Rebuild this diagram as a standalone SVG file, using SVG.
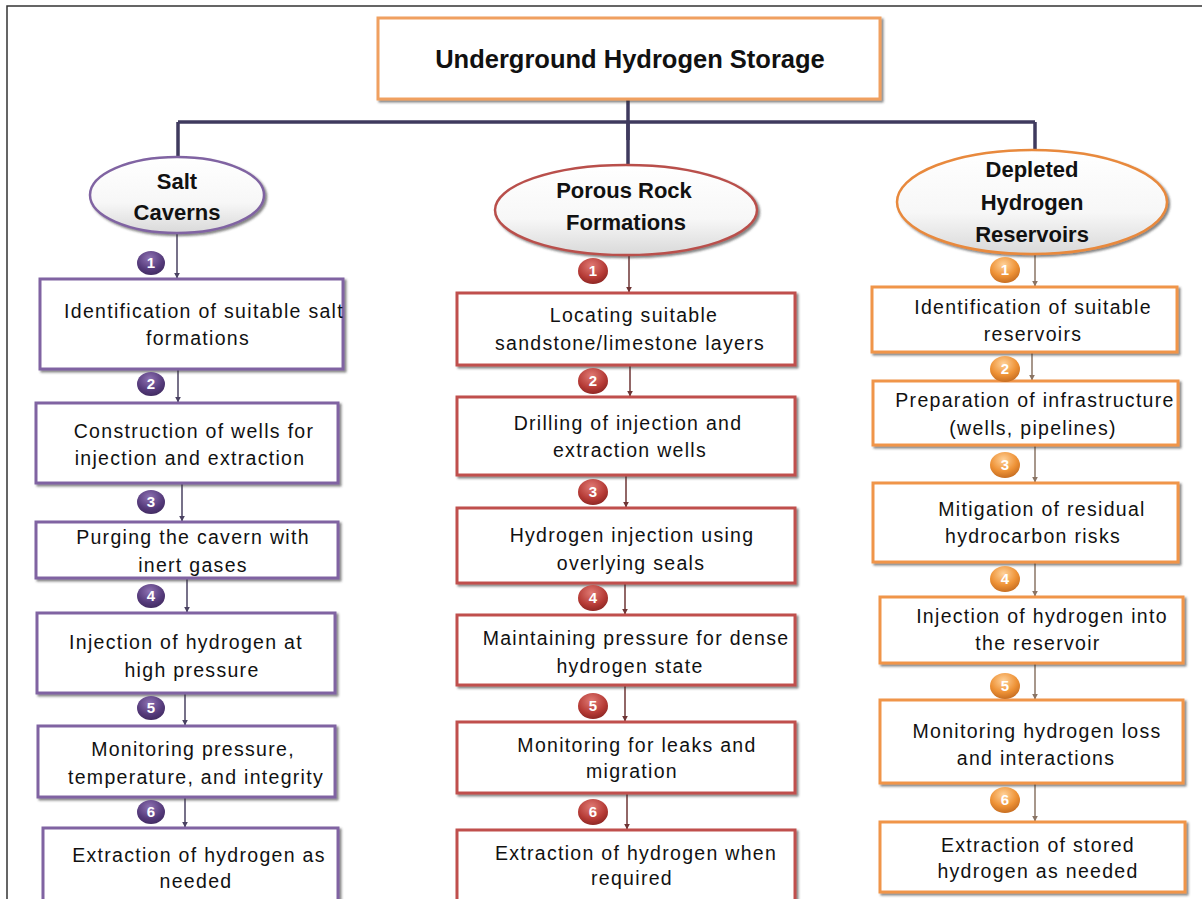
<svg xmlns="http://www.w3.org/2000/svg" width="1202" height="899" viewBox="0 0 1202 899">
<defs>
<filter id="sh" x="-10%" y="-10%" width="125%" height="130%">
<feDropShadow dx="2" dy="2" stdDeviation="1.2" flood-color="#333" flood-opacity="0.6"/>
</filter>
<linearGradient id="ellFill" x1="0" y1="0" x2="0" y2="1">
<stop offset="0" stop-color="#ffffff"/>
<stop offset="0.6" stop-color="#f7f7f7"/>
<stop offset="1" stop-color="#d9d9d9"/>
</linearGradient>
<radialGradient id="gP" cx="0.45" cy="0.3" r="0.8">
<stop offset="0" stop-color="#8e72b3"/>
<stop offset="0.6" stop-color="#553a7a"/>
<stop offset="1" stop-color="#3a2658"/>
</radialGradient>
<radialGradient id="gR" cx="0.45" cy="0.3" r="0.8">
<stop offset="0" stop-color="#e07a74"/>
<stop offset="0.6" stop-color="#b53a35"/>
<stop offset="1" stop-color="#7e1f1d"/>
</radialGradient>
<radialGradient id="gO" cx="0.45" cy="0.3" r="0.8">
<stop offset="0" stop-color="#ffd29a"/>
<stop offset="0.55" stop-color="#ee9236"/>
<stop offset="1" stop-color="#b9611a"/>
</radialGradient>
<marker id="aP" viewBox="0 0 10 10" refX="9" refY="5" markerWidth="6" markerHeight="6" orient="auto" markerUnits="userSpaceOnUse"><path d="M0,0 L10,5 L0,10 z" fill="#4a4262"/></marker>
<marker id="aR" viewBox="0 0 10 10" refX="9" refY="5" markerWidth="6" markerHeight="6" orient="auto" markerUnits="userSpaceOnUse"><path d="M0,0 L10,5 L0,10 z" fill="#6e3434"/></marker>
<marker id="aO" viewBox="0 0 10 10" refX="9" refY="5" markerWidth="6" markerHeight="6" orient="auto" markerUnits="userSpaceOnUse"><path d="M0,0 L10,5 L0,10 z" fill="#8a7464"/></marker>
</defs>
<style>
.title{font-family:"Liberation Sans",Arial,sans-serif;font-weight:bold;font-size:25.5px;fill:#111;text-anchor:middle}
.head{font-family:"Liberation Sans",Arial,sans-serif;font-weight:bold;font-size:22px;fill:#111;text-anchor:middle}
.t{font-family:"Liberation Sans",Arial,sans-serif;font-size:19.5px;fill:#111;text-anchor:middle;letter-spacing:1.3px}
.num{font-family:"Liberation Sans",Arial,sans-serif;font-weight:bold;font-size:15px;fill:#fff;text-anchor:middle}
.bP{fill:#fff;stroke:#8064a2;stroke-width:3;filter:url(#sh)}
.bR{fill:#fff;stroke:#c0504d;stroke-width:3;filter:url(#sh)}
.bO{fill:#fff;stroke:#f0954a;stroke-width:3;filter:url(#sh)}
.eP{fill:url(#ellFill);stroke:#8064a2;stroke-width:2.5;filter:url(#sh)}
.eR{fill:url(#ellFill);stroke:#b9504c;stroke-width:2.5;filter:url(#sh)}
.eO{fill:url(#ellFill);stroke:#e8893c;stroke-width:2.5;filter:url(#sh)}
.top{stroke:#3f3a5e;stroke-width:3.5;fill:none}
.cP{stroke:#4a4262;stroke-width:1.5;fill:none;marker-end:url(#aP)}
.cR{stroke:#6e3434;stroke-width:1.5;fill:none;marker-end:url(#aR)}
.cO{stroke:#8a7464;stroke-width:1.5;fill:none;marker-end:url(#aO)}
</style>
<rect width="1202" height="899" fill="#fff"/>
<path d="M7,899 V6 H1202" fill="none" stroke="#333" stroke-width="1.5"/>

<g id="connectors">
<path class="top" d="M628,99 V140"/>
<path class="top" d="M178,122 H1035"/>
<path class="top" d="M178,122 V157"/>
<path class="top" d="M628,122 V165"/>
<path class="top" d="M1035,122 V150"/>
<path class="cP" d="M177,233 V278"/>
<path class="cP" d="M178,370 V402"/>
<path class="cP" d="M182,480 V521"/>
<path class="cP" d="M187,578 V612"/>
<path class="cP" d="M185,693 V725"/>
<path class="cP" d="M185,797 V827"/>
<path class="cR" d="M629,255 V292"/>
<path class="cR" d="M630,365 V396"/>
<path class="cR" d="M626,475 V507"/>
<path class="cR" d="M625,583 V614"/>
<path class="cR" d="M625,685 V721"/>
<path class="cR" d="M627,793 V829"/>
<path class="cO" d="M1035,255 V286"/>
<path class="cO" d="M1032,352 V380"/>
<path class="cO" d="M1035,445 V482"/>
<path class="cO" d="M1035,562 V596"/>
<path class="cO" d="M1035,663 V699"/>
<path class="cO" d="M1035,783 V821"/>
</g>

<g id="title">
<rect x="378" y="18" width="502" height="81" fill="#fff" stroke="#f0a060" stroke-width="3" filter="url(#sh)"/>
<text class="title" x="630" y="68">Underground Hydrogen Storage</text>
</g>

<g id="salt">
<ellipse class="eP" cx="177" cy="195" rx="87" ry="38"/>
<text class="head" x="177" y="189">Salt</text>
<text class="head" x="177" y="220">Caverns</text>
</g>
<g id="porous">
<ellipse class="eR" cx="626" cy="210" rx="131" ry="45"/>
<text class="head" x="624" y="198">Porous Rock</text>
<text class="head" x="626" y="230">Formations</text>
</g>
<g id="depleted">
<ellipse class="eO" cx="1032" cy="202" rx="135" ry="52"/>
<text class="head" x="1032" y="177">Depleted</text>
<text class="head" x="1032" y="210">Hydrogen</text>
<text class="head" x="1032" y="242">Reservoirs</text>
</g>

<g id="s1"><rect class="bP" x="40" y="279" width="303" height="90"/>
<text class="t" x="204" y="318">Identification of suitable salt</text><text class="t" x="198" y="345">formations</text></g>
<g id="s2"><rect class="bP" x="36" y="403" width="302" height="80"/>
<text class="t" x="194" y="438">Construction of wells for</text><text class="t" x="190" y="465">injection and extraction</text></g>
<g id="s3"><rect class="bP" x="36" y="522" width="302" height="56"/>
<text class="t" x="193" y="544">Purging the cavern with</text><text class="t" x="193" y="572">inert gases</text></g>
<g id="s4"><rect class="bP" x="37" y="613" width="298" height="80"/>
<text class="t" x="186" y="649">Injection of hydrogen at</text><text class="t" x="192" y="677">high pressure</text></g>
<g id="s5"><rect class="bP" x="38" y="726" width="297" height="71"/>
<text class="t" x="193" y="756">Monitoring pressure,</text><text class="t" x="196" y="784">temperature, and integrity</text></g>
<g id="s6"><rect class="bP" x="43" y="828" width="295" height="80"/>
<text class="t" x="199" y="862">Extraction of hydrogen as</text><text class="t" x="196" y="888">needed</text></g>

<g id="p1"><rect class="bR" x="457" y="293" width="338" height="72"/>
<text class="t" x="634" y="322">Locating suitable</text><text class="t" x="630" y="350">sandstone/limestone layers</text></g>
<g id="p2"><rect class="bR" x="457" y="397" width="338" height="78"/>
<text class="t" x="628" y="430">Drilling of injection and</text><text class="t" x="630" y="457">extraction wells</text></g>
<g id="p3"><rect class="bR" x="457" y="508" width="338" height="75"/>
<text class="t" x="632" y="542">Hydrogen injection using</text><text class="t" x="631" y="570">overlying seals</text></g>
<g id="p4"><rect class="bR" x="457" y="615" width="338" height="70"/>
<text class="t" x="636" y="645">Maintaining pressure for dense</text><text class="t" x="630" y="673">hydrogen state</text></g>
<g id="p5"><rect class="bR" x="457" y="722" width="338" height="71"/>
<text class="t" x="637" y="752">Monitoring for leaks and</text><text class="t" x="632" y="778">migration</text></g>
<g id="p6"><rect class="bR" x="457" y="830" width="338" height="80"/>
<text class="t" x="636" y="860">Extraction of hydrogen when</text><text class="t" x="632" y="885">required</text></g>

<g id="d1"><rect class="bO" x="872" y="287" width="305" height="65"/>
<text class="t" x="1033" y="314">Identification of suitable</text><text class="t" x="1033" y="341">reservoirs</text></g>
<g id="d2"><rect class="bO" x="873" y="381" width="305" height="64"/>
<text class="t" x="1035" y="407">Preparation of infrastructure</text><text class="t" x="1033" y="435">(wells, pipelines)</text></g>
<g id="d3"><rect class="bO" x="873" y="483" width="305" height="79"/>
<text class="t" x="1042" y="516">Mitigation of residual</text><text class="t" x="1033" y="543">hydrocarbon risks</text></g>
<g id="d4"><rect class="bO" x="880" y="597" width="303" height="66"/>
<text class="t" x="1042" y="623">Injection of hydrogen into</text><text class="t" x="1038" y="650">the reservoir</text></g>
<g id="d5"><rect class="bO" x="880" y="700" width="303" height="83"/>
<text class="t" x="1037" y="738">Monitoring hydrogen loss</text><text class="t" x="1036" y="765">and interactions</text></g>
<g id="d6"><rect class="bO" x="880" y="822" width="305" height="70"/>
<text class="t" x="1038" y="852">Extraction of stored</text><text class="t" x="1038" y="878">hydrogen as needed</text></g>

<g id="badges">
<ellipse cx="151" cy="263" rx="14" ry="12" fill="url(#gP)"/><text class="num" x="151" y="268">1</text>
<ellipse cx="151" cy="384" rx="14" ry="12" fill="url(#gP)"/><text class="num" x="151" y="389">2</text>
<ellipse cx="151" cy="502" rx="14" ry="12" fill="url(#gP)"/><text class="num" x="151" y="507">3</text>
<ellipse cx="151" cy="596" rx="14" ry="12" fill="url(#gP)"/><text class="num" x="151" y="601">4</text>
<ellipse cx="151" cy="708" rx="14" ry="12" fill="url(#gP)"/><text class="num" x="151" y="713">5</text>
<ellipse cx="151" cy="812" rx="14" ry="12" fill="url(#gP)"/><text class="num" x="151" y="817">6</text>
<ellipse cx="593" cy="271" rx="15" ry="13" fill="url(#gR)"/><text class="num" x="593" y="276">1</text>
<ellipse cx="593" cy="381" rx="15" ry="13" fill="url(#gR)"/><text class="num" x="593" y="386">2</text>
<ellipse cx="593" cy="492" rx="15" ry="13" fill="url(#gR)"/><text class="num" x="593" y="497">3</text>
<ellipse cx="593" cy="598" rx="15" ry="13" fill="url(#gR)"/><text class="num" x="593" y="603">4</text>
<ellipse cx="593" cy="706" rx="15" ry="13" fill="url(#gR)"/><text class="num" x="593" y="711">5</text>
<ellipse cx="593" cy="812" rx="15" ry="13" fill="url(#gR)"/><text class="num" x="593" y="817">6</text>
<ellipse cx="1005" cy="270" rx="15" ry="13" fill="url(#gO)"/><text class="num" x="1005" y="275">1</text>
<ellipse cx="1005" cy="369" rx="15" ry="13" fill="url(#gO)"/><text class="num" x="1005" y="374">2</text>
<ellipse cx="1005" cy="465" rx="15" ry="13" fill="url(#gO)"/><text class="num" x="1005" y="470">3</text>
<ellipse cx="1005" cy="579" rx="15" ry="13" fill="url(#gO)"/><text class="num" x="1005" y="584">4</text>
<ellipse cx="1005" cy="686" rx="15" ry="13" fill="url(#gO)"/><text class="num" x="1005" y="691">5</text>
<ellipse cx="1005" cy="800" rx="15" ry="13" fill="url(#gO)"/><text class="num" x="1005" y="805">6</text>
</g>
</svg>
